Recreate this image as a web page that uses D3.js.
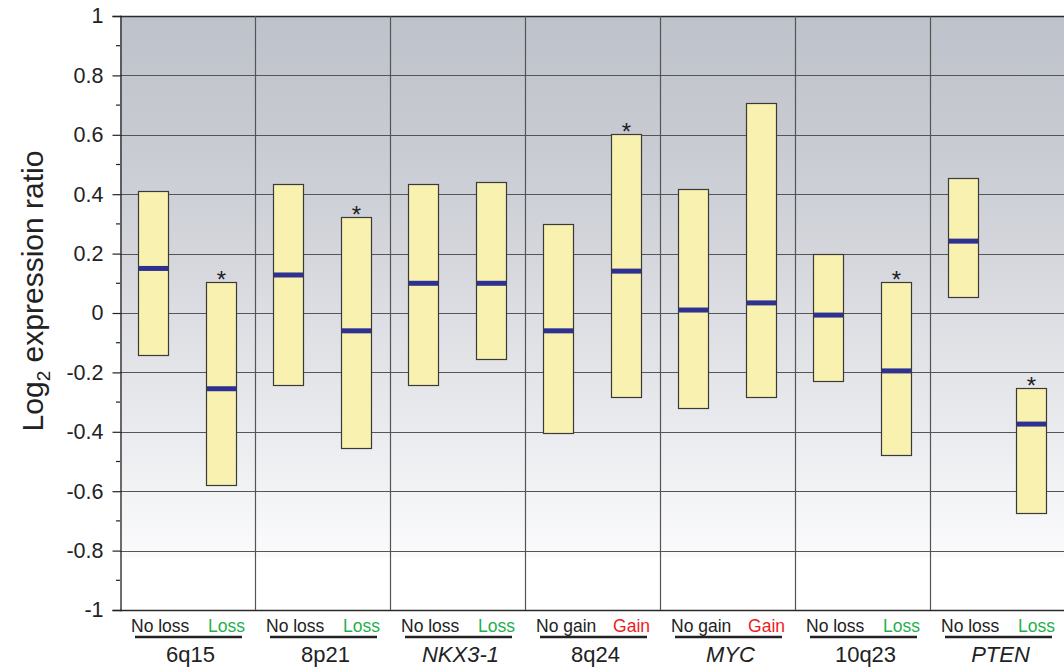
<!DOCTYPE html>
<html>
<head>
<meta charset="utf-8">
<script src="https://cdn.jsdelivr.net/npm/d3@7/dist/d3.min.js"></script>
<style>
  html, body { margin: 0; padding: 0; background: #fff; }
  svg { display: block; font-family: Arial, "Liberation Sans", sans-serif; }
</style>
</head>
<body>
<svg id="chart" width="1064" height="667"></svg>
<script>
// Chromosomal regions / genes, each split into two copy-number groups
const regions = ["6q15", "8p21", "NKX3-1", "8q24", "MYC", "10q23", "PTEN"];
const italicRegion = [false, false, true, false, true, false, true];
const groupLeft = ["No loss", "No loss", "No loss", "No gain", "No gain", "No loss", "No loss"];
const groupRight = ["Loss", "Loss", "Loss", "Gain", "Gain", "Loss", "Loss"];

// Box extents (upper, lower) and median of log2 expression ratio
const leftUpper  = [0.41, 0.435, 0.435, 0.30, 0.417, 0.20, 0.455];
const leftLower  = [-0.14, -0.243, -0.243, -0.405, -0.32, -0.229, 0.054];
const leftMedian = [0.15, 0.128, 0.10, -0.06, 0.01, -0.007, 0.242];

const rightUpper  = [0.105, 0.323, 0.44, 0.603, 0.707, 0.105, -0.252];
const rightLower  = [-0.58, -0.455, -0.155, -0.283, -0.283, -0.478, -0.673];
const rightMedian = [-0.255, -0.06, 0.10, 0.141, 0.034, -0.195, -0.374];
const rightSignificant = [true, true, false, true, false, true, true];

const majorTicks = [1, 0.8, 0.6, 0.4, 0.2, 0, -0.2, -0.4, -0.6, -0.8, -1];
const minorTicks = [0.9, 0.7, 0.5, 0.3, 0.1, -0.1, -0.3, -0.5, -0.7, -0.9];

const svg = d3.select("#chart");
const margin = { left: 120, top: 16, right: -1, bottom: 57 };
const W = 1064, H = 667;
const plotW = W - margin.left - margin.right;
const plotH = H - margin.top - margin.bottom;

const y = d3.scaleLinear().domain([-1, 1]).range([margin.top + plotH, margin.top]);
const x = d3.scaleBand().domain(regions).range([margin.left, margin.left + plotW]).padding(0);
const bw = x.bandwidth();
const boxW = 30;
const offL = 33, offR = 101; // box centres inside each band

// Background gradient: grey at top fading to white near the bottom
const defs = svg.append("defs");
const grad = defs.append("linearGradient").attr("id", "bg")
  .attr("gradientUnits", "userSpaceOnUse")
  .attr("x1", 0).attr("x2", 0).attr("y1", y(1)).attr("y2", y(-1));
[[1, "#bec2ca"], [0.6, "#c7cad1"], [0.2, "#d4d6dc"], [0, "#dcdee3"],
 [-0.4, "#eaebee"], [-0.6, "#f2f3f5"], [-0.82, "#fbfbfc"], [-0.83, "#ffffff"], [-1, "#ffffff"]]
  .forEach(([v, c]) => grad.append("stop").attr("offset", (1 - v) / 2).attr("stop-color", c));

svg.append("rect")
  .attr("x", margin.left).attr("y", y(1))
  .attr("width", plotW).attr("height", y(-1) - y(1))
  .attr("fill", "url(#bg)");

// Horizontal gridlines
svg.append("g").selectAll("line").data(majorTicks).join("line")
  .attr("x1", margin.left).attr("x2", margin.left + plotW)
  .attr("y1", d => Math.round(y(d)) + 0.5).attr("y2", d => Math.round(y(d)) + 0.5)
  .attr("stroke", d => (d === 1 || d === -1) ? "#2a2a2a" : "#555")
  .attr("stroke-width", d => (d === 1 || d === -1) ? 1.5 : 1.2);

// Vertical separators between regions
svg.append("g").selectAll("line").data(regions.slice(1)).join("line")
  .attr("x1", d => Math.round(x(d)) + 0.5).attr("x2", d => Math.round(x(d)) + 0.5)
  .attr("y1", y(1)).attr("y2", y(-1))
  .attr("stroke", "#555").attr("stroke-width", 1.2);

// Y axis
const yAxis = d3.axisLeft(y).tickValues(majorTicks).tickSize(8).tickPadding(9)
  .tickFormat(d => d === 0 ? "0" : String(d));
const gy = svg.append("g").attr("transform", `translate(${margin.left + 0.5},0)`).call(yAxis);
gy.select(".domain").attr("stroke", "#222").attr("stroke-width", 1.3);
gy.selectAll(".tick line").attr("stroke", "#222").attr("stroke-width", 1.2);
gy.selectAll(".tick text").attr("font-size", 21.5).attr("fill", "#222")
  .attr("font-family", "Arial, 'Liberation Sans', sans-serif");
svg.append("g").selectAll("line").data(minorTicks).join("line")
  .attr("x1", margin.left - 4).attr("x2", margin.left)
  .attr("y1", d => y(d)).attr("y2", d => y(d))
  .attr("stroke", "#222").attr("stroke-width", 1.2);

// Y axis title with subscript
const yt = svg.append("text")
  .attr("transform", `translate(43,${y(0) - 22}) rotate(-90)`)
  .attr("text-anchor", "middle").attr("font-size", 30).attr("fill", "#222");
yt.append("tspan").text("Log");
yt.append("tspan").attr("font-size", 19).attr("dy", 7).text("2");
yt.append("tspan").attr("dy", -7).text(" expression ratio");

// Boxes
const boxes = [];
regions.forEach((r, i) => {
  boxes.push({ x0: x(r) + offL, up: leftUpper[i], lo: leftLower[i], med: leftMedian[i], sig: false });
  boxes.push({ x0: x(r) + offR, up: rightUpper[i], lo: rightLower[i], med: rightMedian[i], sig: rightSignificant[i] });
});

const gb = svg.append("g");
gb.selectAll("rect.box").data(boxes).join("rect").attr("class", "box")
  .attr("x", d => Math.round(d.x0) - 14.5).attr("width", boxW)
  .attr("y", d => Math.round(y(d.up)) + 0.5)
  .attr("height", d => Math.round(y(d.lo)) - Math.round(y(d.up)))
  .attr("fill", "#f9f1b0").attr("stroke", "#3a3a3a").attr("stroke-width", 1.2);
gb.selectAll("rect.med").data(boxes).join("rect").attr("class", "med")
  .attr("x", d => Math.round(d.x0) - 14).attr("width", boxW - 1)
  .attr("y", d => y(d.med) - 2.5).attr("height", 5)
  .attr("fill", "#2e3192");
gb.selectAll("text.sig").data(boxes.filter(d => d.sig)).join("text").attr("class", "sig")
  .attr("x", d => Math.round(d.x0) + 0.5).attr("y", d => y(d.up) + 6)
  .attr("text-anchor", "middle").attr("font-size", 24).attr("fill", "#222")
  .text("*");

// Category labels under the plot
const gl = svg.append("g");
regions.forEach((r, i) => {
  const x0 = x(r);
  gl.append("text").attr("x", x0 + 11).attr("y", 632)
    .attr("font-size", 17.5).attr("fill", "#222").text(groupLeft[i]);
  gl.append("text").attr("x", x0 + 125).attr("y", 632).attr("text-anchor", "end")
    .attr("font-size", 17.5).attr("fill", groupRight[i] === "Gain" ? "#ec1c24" : "#1fb04b")
    .text(groupRight[i]);
  gl.append("line").attr("x1", x0 + 15).attr("x2", x0 + 122)
    .attr("y1", 637).attr("y2", 637).attr("stroke", "#222").attr("stroke-width", 2.5);
  gl.append("text").attr("x", x0 + bw / 2 + 3).attr("y", 662).attr("text-anchor", "middle")
    .attr("font-size", 22).attr("fill", "#222")
    .attr("font-style", italicRegion[i] ? "italic" : "normal").text(r);
});
</script>
</body>
</html>
